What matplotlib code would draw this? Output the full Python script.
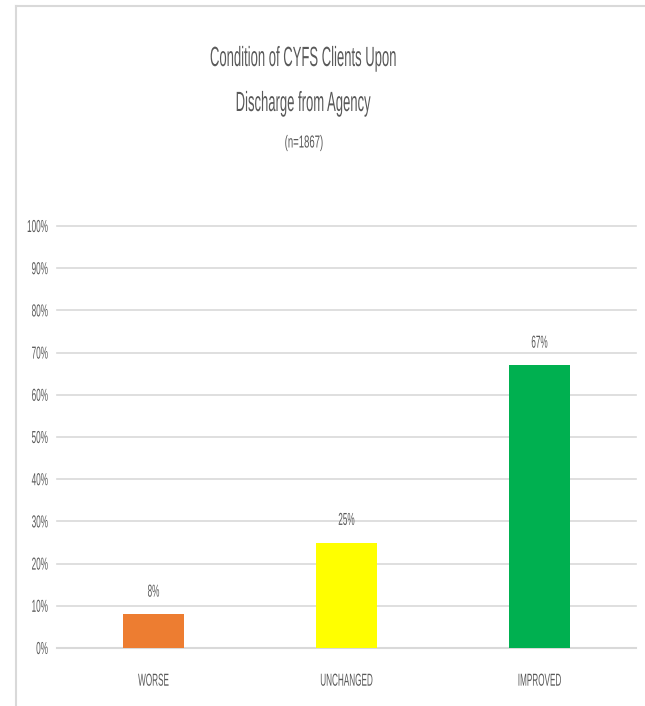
import matplotlib
matplotlib.use("Agg")
import matplotlib.pyplot as plt
from matplotlib.lines import Line2D
from matplotlib.ticker import MultipleLocator, FuncFormatter
from matplotlib.patheffects import AbstractPathEffect
from matplotlib.transforms import Affine2D

categories = ["WORSE", "UNCHANGED", "IMPROVED"]
values = [8, 25, 67]
colors = ["#ED7D31", "#FFFF00", "#00B050"]
title_lines = ["Condition of CYFS Clients Upon", "Discharge from Agency"]
subtitle = "(n=1867)"

W, H = 645, 706
SX = 0.47  # horizontal squeeze of the lettering
TXT = "#595959"
FAM = ["Liberation Sans", "DejaVu Sans"]


class Squeeze(AbstractPathEffect):
    """Draw a text's glyphs horizontally condensed around its anchor."""

    def __init__(self, text, sx):
        super().__init__()
        self.text = text
        self.sx = sx

    def draw_path(self, renderer, gc, tpath, affine, rgbFace=None):
        bb = self.text.get_window_extent(renderer)
        ha = self.text.get_horizontalalignment()
        cx = {"left": bb.x0, "center": 0.5 * (bb.x0 + bb.x1), "right": bb.x1}[ha]
        t = affine + Affine2D().translate(-cx, 0).scale(self.sx, 1).translate(cx, 0)
        renderer.draw_path(gc, tpath, t, rgbFace)


def squeeze(t, sx=SX):
    t.set_path_effects([Squeeze(t, sx)])
    return t


fig = plt.figure(figsize=(W / 100, H / 100), dpi=100)
fig.patch.set_facecolor("white")

# chart border
fig.add_artist(Line2D([16 / W, 1], [1 - 6 / H, 1 - 6 / H], color="#d9d9d9", lw=1.5,
                      transform=fig.transFigure, zorder=0))
fig.add_artist(Line2D([16 / W, 16 / W], [0, 1 - 6 / H], color="#d9d9d9", lw=1.5,
                      transform=fig.transFigure, zorder=0))

ax = fig.add_axes([57 / W, 1 - 648 / H, (636 - 57) / W, (648 - 226) / H])
x = list(range(len(categories)))
ax.bar(x, values, width=0.315, color=colors, zorder=3)
ax.set_xlim(-0.5, 2.5)
ax.set_ylim(0, 100)
ax.yaxis.set_major_locator(MultipleLocator(10))
ax.yaxis.set_major_formatter(FuncFormatter(lambda v, p: f"{int(v)}%"))
ax.grid(axis="y", color="#d9d9d9", lw=1.2, zorder=0)
for gl in ax.get_ygridlines():
    gl.set_clip_on(False)
for s in ["top", "right", "left"]:
    ax.spines[s].set_visible(False)
ax.spines["bottom"].set_color("#d9d9d9")
ax.spines["bottom"].set_linewidth(1.5)
ax.tick_params(axis="both", length=0)
ax.tick_params(axis="y", pad=6.5)
ax.tick_params(axis="x", pad=18.5)
ax.set_xticks(x)
ax.set_xticklabels(categories)
for lbl in ax.get_xticklabels() + ax.get_yticklabels():
    lbl.set_fontfamily(FAM)
    lbl.set_color(TXT)
    lbl.set_fontsize(12.5)
    squeeze(lbl)

for xi, v in zip(x, values):
    t = ax.annotate(f"{v}%", (xi, v), xytext=(0, 10.5), textcoords="offset points",
                    ha="center", va="bottom", fontsize=12.5, family=FAM, color=TXT)
    squeeze(t)

squeeze(fig.text(303 / W, 1 - 59 / H, title_lines[0], ha="center", va="center",
                 fontsize=20, family=FAM, color=TXT))
squeeze(fig.text(303 / W, 1 - 104 / H, title_lines[1], ha="center", va="center",
                 fontsize=20, family=FAM, color=TXT))
squeeze(fig.text(304 / W, 1 - 143 / H, subtitle, ha="center", va="center",
                 fontsize=12.5, family=FAM, color=TXT), sx=0.55)

fig.savefig("out.png", dpi=100, facecolor="white")
